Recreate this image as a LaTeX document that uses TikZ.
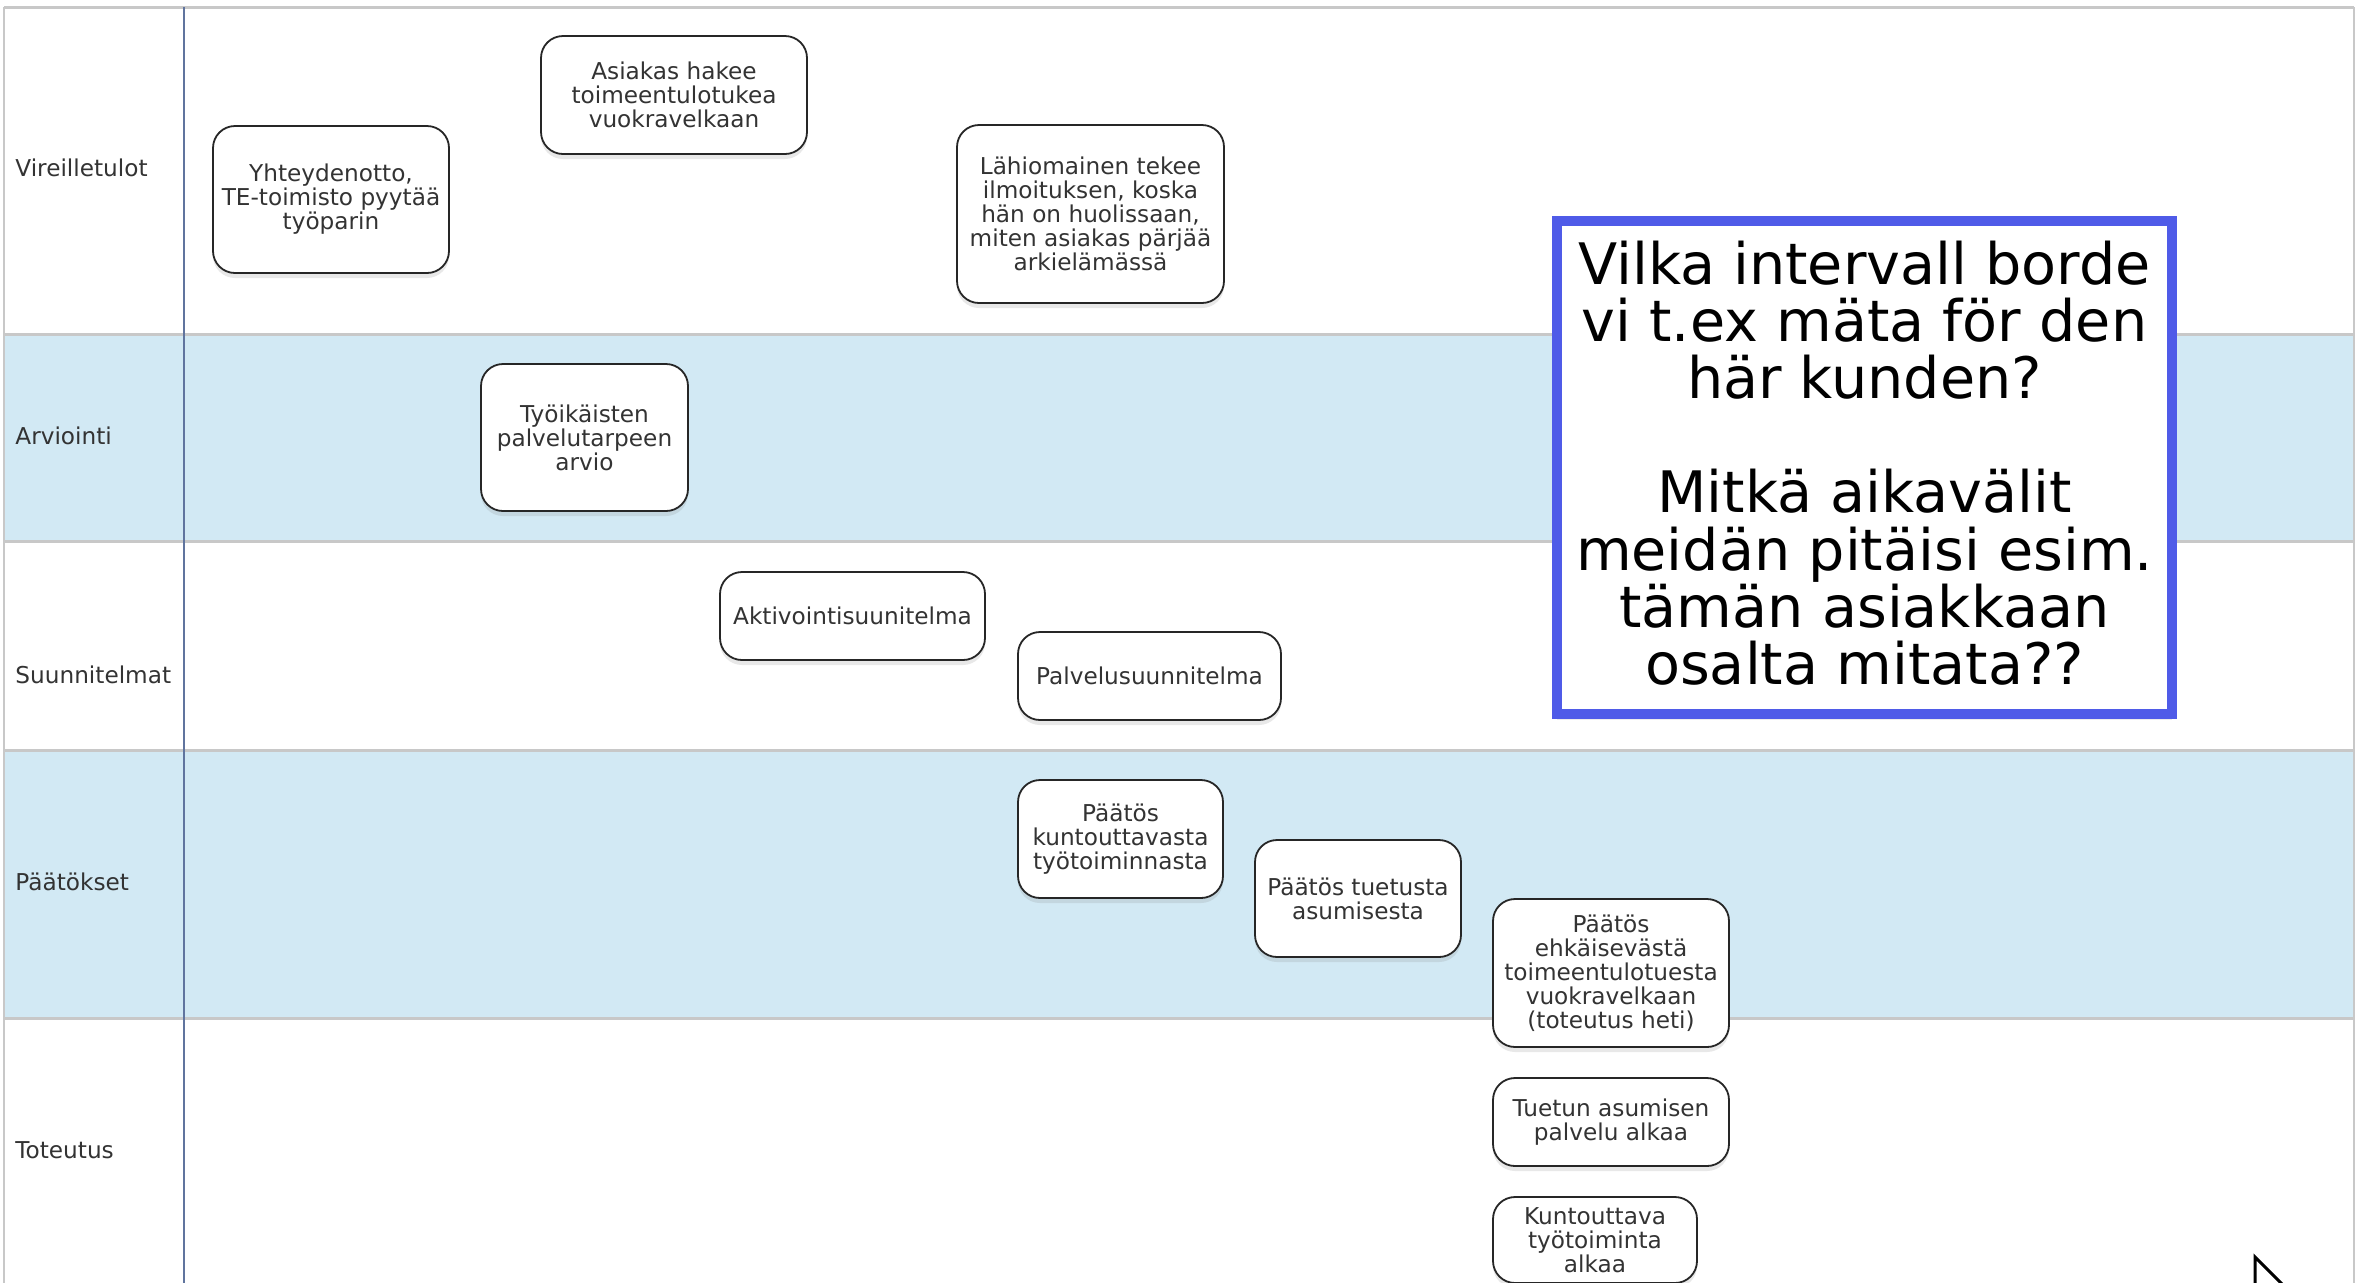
\documentclass[tikz,border=0pt]{standalone}
\usepackage{fontspec}
\setmainfont{DejaVu Sans}
\usetikzlibrary{shadows}

\definecolor{lanefill}{RGB}{210,233,244}
\definecolor{laneline}{RGB}{200,200,200}
\definecolor{axisline}{RGB}{96,116,158}
\definecolor{notecolor}{RGB}{79,91,232}
\definecolor{textgray}{RGB}{51,51,51}

\tikzset{
        lanelabel/.style={anchor=west, inner sep=0pt, text=textgray,
                font=\fontsize{11.6}{12}\selectfont},
        stepbox/.style={draw=black!85, line width=0.9pt, fill=white, rounded corners=11pt,
                align=center, inner sep=0pt, text=textgray,
                font=\fontsize{11.6}{12}\selectfont,
                drop shadow={opacity=0.18, shadow xshift=0pt, shadow yshift=-2.5pt}},
        notebox/.style={draw=notecolor, line width=5pt, fill=white, align=center, inner sep=0pt,
                font=\fontsize{28.6}{28.6}\selectfont,
                drop shadow={opacity=0.15, shadow xshift=0pt, shadow yshift=-3pt}}
}

\begin{document}
\begin{tikzpicture}[x=0.5pt, y=-0.5pt]
        \clip (0,0) rectangle (2356,1282);
        \useasboundingbox (0,0) rectangle (2356,1282);
        
        % swimlanes
        \fill[lanefill] (5,334) rectangle (2354,541);
        \fill[lanefill] (5,750) rectangle (2354,1018);
        \foreach \ly in {7,334,541,750,1018}
                \draw[laneline, line width=1.5pt] (4,\ly) -- (2354,\ly);
        \draw[laneline, line width=1.2pt] (4,7) -- (4,1290);
        \draw[laneline, line width=1.2pt] (2354,7) -- (2354,1290);
        \draw[axisline, line width=1pt] (184,7) -- (184,1290);
        
        \node[lanelabel] (vireille) at (15,168) {Vireilletulot};
        \node[lanelabel] (arvio) at (15,436) {Arviointi};
        \node[lanelabel] (suunn) at (15,675) {Suunnitelmat};
        \node[lanelabel] (paatos) at (15,882) {Päätökset};
        \node[lanelabel] (toteutus) at (15,1150) {Toteutus};
        
        % steps
        \node[stepbox, minimum width=118pt, minimum height=73.5pt] (yhteys) at (331,199.5)
                {Yhteydenotto,\\TE-toimisto pyytää\\työparin};
        \node[stepbox, minimum width=133pt, minimum height=59pt] (hakee) at (674,95)
                {Asiakas hakee\\toimeentulotukea\\vuokravelkaan};
        \node[stepbox, minimum width=133.5pt, minimum height=89pt] (lahio) at (1090.5,214)
                {Lähiomainen tekee\\ilmoituksen, koska\\hän on huolissaan,\\miten asiakas pärjää\\arkielämässä};
        \node[stepbox, minimum width=103.5pt, minimum height=73.5pt] (tarve) at (584.5,437.5)
                {Työikäisten\\palvelutarpeen\\arvio};
        \node[stepbox, minimum width=132.5pt, minimum height=44pt] (aktiv) at (852.5,616)
                {Aktivointisuunitelma};
        \node[stepbox, minimum width=131.5pt, minimum height=44pt] (palvelu) at (1149.5,676)
                {Palvelusuunnitelma};
        \node[stepbox, minimum width=102.5pt, minimum height=59pt] (ptyo) at (1120.5,839)
                {Päätös\\kuntouttavasta\\työtoiminnasta};
        \node[stepbox, minimum width=103pt, minimum height=58.5pt] (pasum) at (1358,898.5)
                {Päätös tuetusta\\asumisesta};
        \node[stepbox, minimum width=118pt, minimum height=74pt] (pehk) at (1611,973)
                {Päätös\\ehkäisevästä\\toimeentulotuesta\\vuokravelkaan\\(toteutus heti)};
        \node[stepbox, minimum width=118pt, minimum height=44pt] (asumalkaa) at (1611,1122)
                {Tuetun asumisen\\palvelu alkaa};
        \node[stepbox, minimum width=102pt, minimum height=43pt] (tyoalkaa) at (1595,1240)
                {Kuntouttava\\työtoiminta\\alkaa};
        
        % question
        \node[notebox, minimum width=307.5pt, minimum height=246.5pt] (kysymys) at (1864.5,467.5) {};
        \node[align=center, inner sep=0pt, font=\fontsize{28.6}{28.6}\selectfont] (kysteksti) at (1864.5,463)
                {Vilka intervall borde\\vi t.ex mäta för den\\här kunden?\\[28.6pt]Mitkä aikavälit\\meidän pitäisi esim.\\tämän asiakkaan\\osalta mitata??};
        
        \draw[line width=1.5pt, fill=white, line join=miter] (2255,1300) -- (2255,1257) -- (2298,1300);
        
\end{tikzpicture}
\end{document}
